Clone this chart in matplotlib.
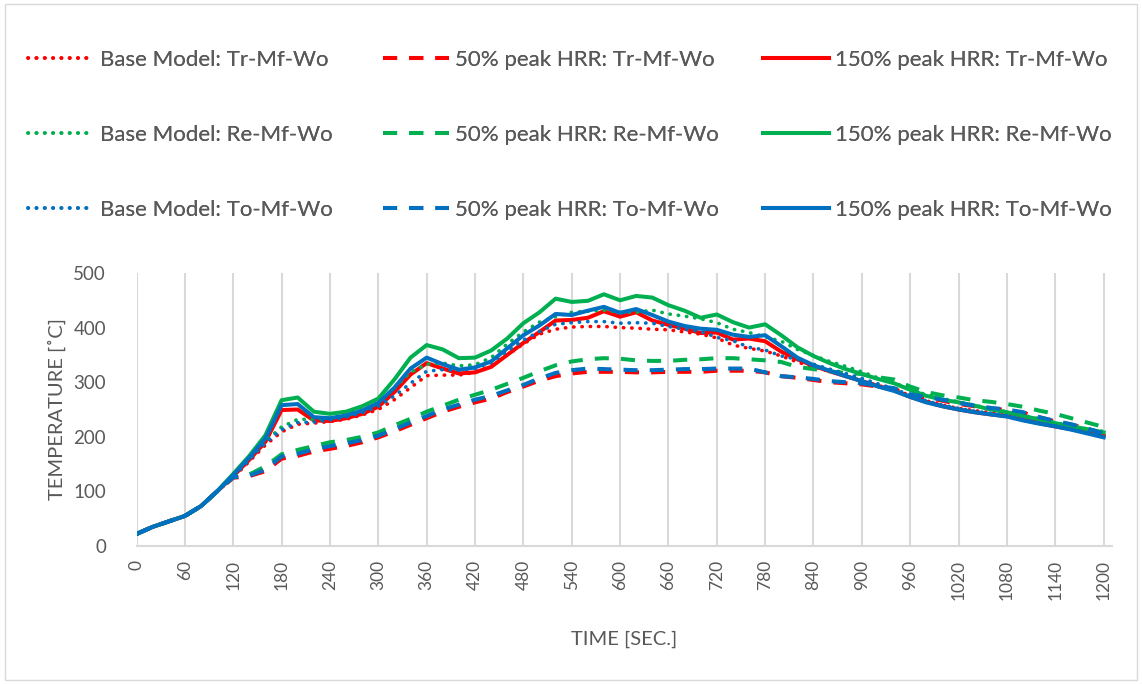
import numpy as np
import matplotlib.pyplot as plt
from matplotlib.patches import Rectangle

plt.rcParams['font.family'] = ['Lato', 'DejaVu Sans']

time = np.arange(0, 1201, 20)

# temperatures [C], read every 20 s
base_tr = [22, 35, 45, 55, 73, 100, 125, 155, 185, 209, 223, 225, 228, 232, 240, 250, 268, 290, 312, 313,
           313, 318, 330, 350, 370, 388, 397, 401, 402, 402, 400, 399, 397, 396, 392, 388, 381, 368, 362, 357,
           348, 337, 328, 320, 312, 302, 294, 286, 276, 266, 258, 252, 248, 244, 240, 233, 227, 221, 216, 210, 205]
base_re = [22, 35, 45, 55, 73, 100, 128, 160, 192, 218, 232, 232, 234, 240, 250, 262, 290, 318, 333, 335,
           330, 332, 345, 370, 392, 410, 420, 428, 430, 432, 428, 428, 432, 425, 421, 416, 409, 397, 391, 383,
           375, 360, 349, 338, 329, 319, 308, 299, 287, 277, 270, 264, 258, 251, 246, 239, 233, 226, 220, 214, 210]
base_to = [22, 35, 45, 55, 73, 100, 127, 158, 189, 213, 226, 227, 231, 236, 244, 256, 275, 298, 320, 323,
           322, 325, 336, 357, 377, 393, 406, 409, 411, 411, 408, 409, 408, 402, 397, 393, 382, 376, 364, 359,
           348, 342, 333, 324, 316, 307, 297, 288, 276, 266, 258, 252, 247, 243, 239, 232, 226, 220, 214, 208, 201]

half_tr = [22, 35, 45, 55, 73, 100, 125, 128, 137, 160, 165, 173, 178, 183, 190, 199, 210, 222, 234, 246,
           255, 263, 270, 282, 292, 303, 311, 316, 319, 319, 319, 318, 318, 319, 319, 319, 321, 321, 321, 318,
           311, 308, 304, 300, 298, 296, 292, 288, 276, 272, 266, 260, 256, 252, 249, 244, 236, 228, 222, 215, 205]
half_re = [22, 35, 45, 55, 73, 100, 127, 131, 146, 168, 176, 183, 190, 194, 200, 208, 221, 233, 246, 257,
           268, 277, 286, 297, 308, 320, 331, 338, 342, 344, 343, 340, 339, 339, 341, 342, 344, 344, 342, 340,
           337, 328, 324, 320, 317, 315, 309, 305, 292, 282, 276, 272, 267, 264, 260, 255, 248, 242, 234, 226, 218]
half_to = [22, 35, 45, 55, 73, 100, 126, 129, 140, 164, 169, 177, 183, 188, 194, 202, 214, 226, 238, 250,
           259, 268, 275, 285, 295, 307, 317, 322, 325, 324, 323, 322, 322, 323, 324, 324, 325, 325, 325, 318,
           311, 309, 306, 302, 300, 298, 293, 289, 278, 273, 268, 262, 257, 253, 250, 245, 236, 229, 223, 215, 206]

high_tr = [22, 35, 45, 55, 73, 100, 128, 158, 191, 249, 250, 230, 229, 234, 242, 255, 282, 314, 335, 325,
           316, 318, 328, 350, 372, 392, 413, 414, 418, 430, 420, 428, 413, 405, 398, 390, 391, 378, 380, 375,
           356, 342, 330, 320, 311, 302, 293, 285, 273, 264, 256, 250, 245, 241, 238, 231, 225, 219, 214, 208, 202]
high_re = [22, 35, 45, 55, 73, 100, 132, 165, 203, 267, 272, 246, 242, 246, 256, 270, 305, 345, 368, 360,
           344, 345, 358, 380, 408, 428, 453, 447, 449, 461, 450, 458, 455, 441, 431, 418, 424, 410, 400, 406,
           386, 364, 348, 335, 324, 315, 306, 298, 286, 275, 268, 263, 257, 250, 245, 238, 232, 225, 219, 214, 208]
high_to = [22, 35, 45, 55, 73, 100, 130, 162, 197, 258, 260, 236, 234, 239, 248, 262, 290, 325, 345, 333,
           323, 327, 338, 362, 386, 404, 425, 423, 431, 438, 427, 434, 423, 411, 403, 398, 396, 387, 383, 386,
           366, 345, 331, 321, 311, 302, 292, 284, 273, 263, 256, 250, 245, 241, 237, 230, 224, 219, 213, 206, 199]

red = '#FF0000'
green = '#00B050'
blue = '#0070C0'
dotted = (0, (0.1, 2.2))
dashed = (0, (3.5, 3))

series = [
    ('Base Model: Tr-Mf-Wo', base_tr, red, dotted),
    ('50% peak HRR: Tr-Mf-Wo', half_tr, red, dashed),
    ('150% peak HRR: Tr-Mf-Wo', high_tr, red, '-'),
    ('Base Model: Re-Mf-Wo', base_re, green, dotted),
    ('50% peak HRR: Re-Mf-Wo', half_re, green, dashed),
    ('150% peak HRR: Re-Mf-Wo', high_re, green, '-'),
    ('Base Model: To-Mf-Wo', base_to, blue, dotted),
    ('50% peak HRR: To-Mf-Wo', half_to, blue, dashed),
    ('150% peak HRR: To-Mf-Wo', high_to, blue, '-'),
]

fig = plt.figure(figsize=(11.42, 6.84), dpi=100)
ax = fig.add_axes([136.5 / 1142, 1 - 546 / 684, (1111.7 - 136.5) / 1142, 273 / 684])

lines = {}
for name, vals, col, ls in series:
    if ls == dotted:
        ln, = ax.plot(time, vals, color=col, lw=2.6, linestyle=ls, dash_capstyle='round')
    else:
        ln, = ax.plot(time, vals, color=col, lw=2.9, linestyle=ls)
    lines[name] = ln

ax.set_xlim(0, 1210)
ax.set_ylim(0, 500)
ax.set_xticks(np.arange(0, 1201, 60))
ax.set_yticks(np.arange(0, 501, 100))
ax.tick_params(axis='x', labelrotation=90, length=0, pad=10, labelsize=12.5, labelcolor='#595959')
ax.tick_params(axis='y', length=0, pad=22, labelsize=13.5, labelcolor='#595959')
ax.grid(axis='x', color='#d9d9d9', lw=1.5)
ax.set_axisbelow(True)
for s in ['top', 'right', 'left']:
    ax.spines[s].set_visible(False)
ax.spines['bottom'].set_color('#d9d9d9')
ax.spines['bottom'].set_linewidth(1.5)

ax.set_xlabel('TIME [SEC.]', fontsize=14.5, color='#595959', labelpad=22)
ax.set_ylabel('TEMPERATURE [˚C]', fontsize=14.5, color='#595959')
ax.yaxis.set_label_coords(-0.072, 0.5)

# legend: three columns placed separately
cols = [
    (['Base Model: Tr-Mf-Wo', 'Base Model: Re-Mf-Wo', 'Base Model: To-Mf-Wo'], 28),
    (['50% peak HRR: Tr-Mf-Wo', '50% peak HRR: Re-Mf-Wo', '50% peak HRR: To-Mf-Wo'], 383),
    (['150% peak HRR: Tr-Mf-Wo', '150% peak HRR: Re-Mf-Wo', '150% peak HRR: To-Mf-Wo'], 763),
]
for names, xpix in cols:
    leg = fig.legend([lines[n] for n in names], names, loc='upper left',
                     bbox_to_anchor=(xpix / 1142, 1 - 50 / 684), frameon=False,
                     fontsize=16, labelcolor='#595959', handlelength=2.95,
                     handletextpad=0.3, labelspacing=2.48, borderpad=0, borderaxespad=0)
    fig.add_artist(leg)

fig.patches.append(Rectangle((0.004, 0.006), 0.992, 0.988, transform=fig.transFigure,
                             fill=False, edgecolor='#d9d9d9', lw=1))

fig.savefig('out.png', dpi=100)
